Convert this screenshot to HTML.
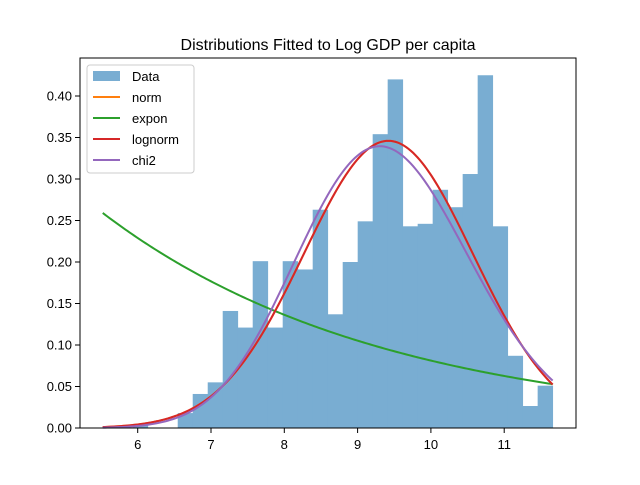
<!DOCTYPE html>
<html><head><meta charset="utf-8"><style>
body{margin:0;background:#fff;}
svg{font-family:"Liberation Sans","DejaVu Sans",sans-serif;}
</style></head><body>
<svg id="chart" width="640" height="480" viewBox="0 0 640 480">
<rect width="640" height="480" fill="#fff"/>
<text x="328" y="50" text-anchor="middle" font-size="16">Distributions Fitted to Log GDP per capita</text>
<g id="bars"></g>
<g id="curves"></g>
<rect x="80" y="58" width="496" height="370" fill="none" stroke="#000" stroke-width="1"/>
<g id="xaxis"></g>
<g id="yaxis"></g>
<g>
<rect x="87" y="65" width="107" height="108" rx="3" fill="#fff" fill-opacity="0.8" stroke="#ccc"/>
<rect x="93" y="71" width="27" height="10" fill="#1f77b4" fill-opacity="0.6"/>
<text x="132" y="81" font-size="13">Data</text>
<line x1="93" y1="97" x2="120" y2="97" stroke="#ff7f0e" stroke-width="2"/>
<text x="132" y="102" font-size="13">norm</text>
<line x1="93" y1="118" x2="120" y2="118" stroke="#2ca02c" stroke-width="2"/>
<text x="132" y="123" font-size="13">expon</text>
<line x1="93" y1="139" x2="120" y2="139" stroke="#d62728" stroke-width="2"/>
<text x="132" y="144" font-size="13">lognorm</text>
<line x1="93" y1="160" x2="120" y2="160" stroke="#9467bd" stroke-width="2"/>
<text x="132" y="165" font-size="13">chi2</text>
</g>
</svg>
<script>
const binStart = 5.523;
const binWidth = 0.2046;
const binHeights = [0,0,0.005,0,0,0.018,0.041,0.055,0.141,0.121,0.201,0.121,0.201,0.191,0.263,0.137,0.200,0.249,0.354,0.420,0.243,0.246,0.287,0.266,0.306,0.425,0.243,0.087,0.0265,0.051];
const xTicks = [6,7,8,9,10,11];
const yTicks = [0,0.05,0.10,0.15,0.20,0.25,0.30,0.35,0.40];
const normParams = [9.42,1.153];
const lognormParams = [9.42,1.153];
const exponParams = [5.523,3.86];
const chi2Params = [200,-2.38,0.059];

const NS="http://www.w3.org/2000/svg";
function X(v){return 137.7+(v-6)*73.3;}
function Y(v){return 428-v*830;}
function mk(tag,attrs,parent){const e=document.createElementNS(NS,tag);for(const k in attrs)e.setAttribute(k,attrs[k]);parent.appendChild(e);return e;}
const bars=document.getElementById('bars');
binHeights.forEach((h,i)=>{
  if(h<=0)return;
  const x0=X(binStart+i*binWidth),x1=X(binStart+(i+1)*binWidth);
  const r=mk('rect',{x:x0,y:Y(h),width:x1-x0+0.4,height:Y(0)-Y(h),fill:'#79add2'},bars);
  
  
});
const xmax=binStart+binHeights.length*binWidth;
function normal(x,p){return Math.exp(-0.5*((x-p[0])/p[1])**2)/(p[1]*Math.sqrt(2*Math.PI));}
function expon(x,p){return Math.exp(-(x-p[0])/p[1])/p[1];}
function lgamma(z){let s=0;while(z<7){s-=Math.log(z);z+=1;}return s+(z-0.5)*Math.log(z)-z+0.5*Math.log(2*Math.PI)+1/(12*z)-1/(360*z**3);}
function chi2(x,p){const k=p[0],u=(x-p[1])/p[2];if(u<=0)return 0;return Math.exp((k/2-1)*Math.log(u)-u/2-(k/2)*Math.log(2)-lgamma(k/2))/p[2];}
const curves=document.getElementById('curves');
function curve(f,p,color,name){
  let d='';
  for(let i=0;i<=200;i++){const x=binStart+(xmax-binStart)*i/200;d+=(i?'L':'M')+X(x).toFixed(2)+','+Y(f(x,p)).toFixed(2);}
  const e=mk('path',{d:d,fill:'none',stroke:color,'stroke-width':2},curves);
  
  
}
curve(normal,normParams,'#ff7f0e','norm-curve');
curve(expon,exponParams,'#2ca02c','expon-curve');
curve(normal,lognormParams,'#d62728','lognorm-curve');
curve(chi2,chi2Params,'#9467bd','chi2-curve');
const xa=document.getElementById('xaxis');
xTicks.forEach(t=>{
  mk('line',{x1:X(t),y1:428,x2:X(t),y2:433,stroke:'#000'},xa);
  const tx=mk('text',{x:X(t),y:449,'text-anchor':'middle','font-size':13},xa);
  tx.textContent=t;
  
  
});
const ya=document.getElementById('yaxis');
yTicks.forEach(t=>{
  mk('line',{x1:75,y1:Y(t),x2:80,y2:Y(t),stroke:'#000'},ya);
  const tx=mk('text',{x:72,y:Y(t)+4.5,'text-anchor':'end','font-size':13},ya);
  tx.textContent=t.toFixed(2);
  
  
});
</script>
</body></html>
